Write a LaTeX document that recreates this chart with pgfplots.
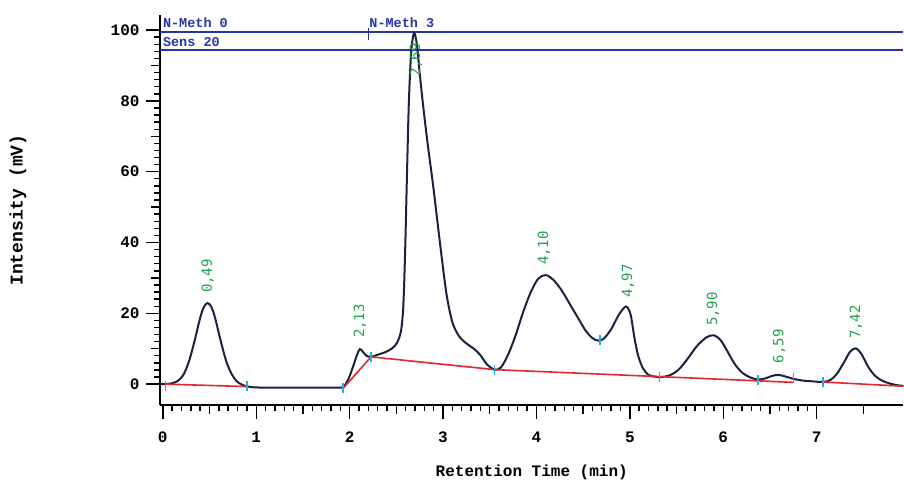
\documentclass[border=0pt]{standalone}
\usepackage{fontspec}
\setmainfont{Liberation Mono}
\newfontfamily\peakfont{DejaVu Sans Mono}
\usepackage{pgfplots}
\pgfplotsset{compat=1.18}
\definecolor{trace}{HTML}{1B2240}
\definecolor{base}{HTML}{E3262B}
\definecolor{cut}{HTML}{22AEE6}
\definecolor{peak}{HTML}{21A04F}
\definecolor{meth}{HTML}{2535A8}

\begin{document}
\begin{tikzpicture}
\begin{axis}[
    name=ax,
    x=93.4pt, y=3.54pt,
    xmin=-0.03, xmax=7.93,
    ymin=-5.9, ymax=104.2,
    axis lines=left,
    axis line style={-, line width=1.6pt},
    xtick={0,...,7},
    ytick={0,20,...,100},
    minor x tick num=9,
    minor y tick num=9,
    extra x ticks={0.5,1.5,...,7.5},
    extra y ticks={10,30,50,70,90},
    extra x tick labels={},
    extra y tick labels={},
    extra tick style={major tick length=9pt},
    tick align=outside,
    major tick length=14pt,
    minor tick length=6pt,
    tick style={black, line width=1.4pt},
    ticklabel style={font=\fontsize{16}{16}\selectfont\bfseries},
    xticklabel style={yshift=-9pt},
    yticklabel style={xshift=-3pt},
    /pgf/number format/assume math mode=true,
    xlabel={Retention Time (min)},
    ylabel={Intensity (mV)},
    xlabel style={font=\fontsize{16}{16}\selectfont\bfseries,
        at={(rel axis cs:0.5,0)}, anchor=center, yshift=-67pt},
    ylabel style={font=\fontsize{18}{18}\selectfont\bfseries,
        at={([xshift=-142pt]rel axis cs:0,0.5)}, anchor=center},
    clip=false,
]
% method / sensitivity markers
\draw[meth, line width=1.5pt] (axis cs:-0.03,99.4) -- (axis cs:7.93,99.4);
\draw[meth, line width=1.5pt] (axis cs:-0.03,94.4) -- (axis cs:7.93,94.4);
\draw[meth, line width=1.3pt] (axis cs:2.2,100.6) -- (axis cs:2.2,97.3);
\node[meth, anchor=base west, inner sep=0, font=\fontsize{13.5}{13.5}\selectfont\bfseries] at (axis cs:0.0,100.8) {N-Meth 0};
\node[meth, anchor=base west, inner sep=0, font=\fontsize{13.5}{13.5}\selectfont\bfseries] at (axis cs:0.0,95.5) {Sens 20};
\node[meth, anchor=base west, inner sep=0, font=\fontsize{13.5}{13.5}\selectfont\bfseries] at (axis cs:2.21,100.8) {N-Meth 3};

% chromatogram
\addplot[trace, line width=2pt, smooth, tension=0.5] coordinates {
    (-0.03,0) (0.05,0.05) (0.10,0.25) (0.16,0.9) (0.22,2.6) (0.28,6.4)
    (0.34,12.2) (0.40,18.7) (0.44,21.8) (0.48,22.9) (0.52,21.8) (0.56,18.7)
    (0.62,12.2) (0.68,6.4) (0.74,2.7) (0.80,0.6) (0.87,-0.4) (0.95,-0.85)
    (1.10,-1.0) (1.50,-1.0) (1.88,-1.0) (1.94,-0.6) (1.99,1.6) (2.04,5.2)
    (2.08,8.3) (2.11,9.9) (2.14,9.2) (2.18,8.0) (2.23,7.7) (2.30,8.3)
    (2.38,9.0) (2.46,10.2) (2.51,11.8) (2.55,15) (2.575,22) (2.595,38)
    (2.615,60) (2.635,80) (2.66,94) (2.69,99.2) (2.72,96) (2.75,88)
    (2.79,78) (2.84,67) (2.89,57) (2.94,46) (2.99,35) (3.04,25)
    (3.10,17.5) (3.17,13.6) (3.25,11.5) (3.33,10.0) (3.40,8.2) (3.47,5.6)
    (3.55,4.1) (3.62,4.7) (3.70,8.5) (3.78,14) (3.86,20.5) (3.94,26)
    (4.02,29.8) (4.10,30.8) (4.18,29.5) (4.27,26.5) (4.36,22.5) (4.45,18.5)
    (4.53,15) (4.60,13) (4.66,12.3) (4.72,12.8) (4.80,15.5) (4.88,19.5)
    (4.94,21.6) (4.97,21.8) (5.01,19.5) (5.05,13) (5.09,8) (5.14,4.5)
    (5.20,2.6) (5.27,2.1) (5.33,2.0) (5.42,2.4) (5.52,4) (5.62,7.2)
    (5.72,10.8) (5.82,13.2) (5.90,13.8) (5.97,12.5) (6.04,9.5) (6.12,5.8)
    (6.20,3.3) (6.28,2.0) (6.37,1.3) (6.45,1.6) (6.52,2.3) (6.59,2.6)
    (6.66,2.2) (6.75,1.5) (6.85,1.0) (6.95,0.8) (7.07,0.6) (7.15,1.2)
    (7.22,3) (7.30,6.5) (7.36,9.2) (7.42,10.1) (7.48,8.5) (7.55,5)
    (7.62,2.5) (7.70,1.0) (7.78,0.2) (7.86,-0.3) (7.93,-0.5)
};

% integration baselines
\addplot[base, line width=1.6pt] coordinates {(0.03,0) (0.90,-0.7)};
\addplot[base, line width=1.6pt] coordinates {(1.93,-1.2) (2.23,7.7) (3.55,4.1) (6.75,0.5)};
\addplot[base, line width=1.6pt] coordinates {(7.07,0.6) (7.93,-0.6)};

% peak start/end marks
\addplot[only marks, cut, mark=|, mark size=5pt, mark options={line width=1.5pt}] coordinates {
    (0.03,-0.5) (0.90,-0.6) (1.93,-1.2) (2.23,7.7) (3.55,4.1) (4.68,12.4)
    (5.32,2.0) (6.37,1.3) (6.75,1.6) (7.07,0.6)
};

% retention time labels
\tikzset{rt/.style={peak, rotate=90, anchor=west, inner sep=0, font=\peakfont\fontsize{14}{14}\selectfont}}
\node[rt] at (axis cs:0.48,25.7) {0,49};
\node[rt] at (axis cs:2.11,13.0) {2,13};
\node[rt] at (axis cs:2.71,86.7) {2,69};
\node[rt] at (axis cs:4.08,33.6) {4,10};
\node[rt] at (axis cs:4.98,24.3) {4,97};
\node[rt] at (axis cs:5.89,16.4) {5,90};
\node[rt] at (axis cs:6.60,5.9) {6,59};
\node[rt] at (axis cs:7.42,12.7) {7,42};
\end{axis}
\pgfresetboundingbox
\path[use as bounding box] ([shift={(-160pt,-80pt)}]ax.south west) rectangle ([shift={(744pt,405pt)}]ax.south west);
\end{tikzpicture}
\end{document}
